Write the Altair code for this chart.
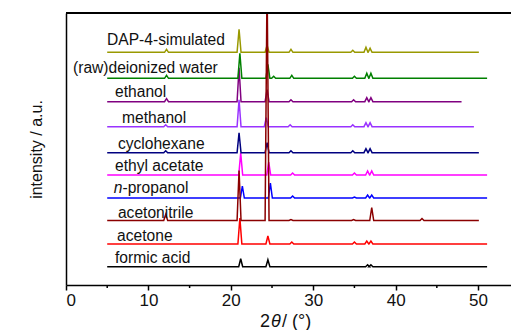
import altair as alt
import pandas as pd

# ---- data ----
series = ["formic acid", "acetone", "acetonitrile", "n-propanol", "ethyl acetate",
          "cyclohexane", "methanol", "ethanol", "(raw)deionized water", "DAP-4-simulated"]
colors = ["#000000", "#ff0000", "#8b0000", "#0000ff", "#ff00ff",
          "#000080", "#9933ff", "#800080", "#008000", "#999900"]
baselines = [18.3, 41.0, 64.5, 87.0, 110.0, 132.3, 158.3, 183.3, 206.7, 232.7]
start_x = [5.0, 5.0, 5.0, 5.0, 5.0, 5.0, 5.0, 5.0, 5.0, 5.0]
end_x = [51.1, 51.1, 50.1, 51.1, 51.1, 50.1, 49.5, 48.0, 51.1, 50.1]
peak_pos = [
    [21.2, 24.5, 36.6, 37.0],
    [21.1, 24.5, 27.4, 35.0, 36.5, 37.0],
    [12.1, 21.0, 24.4, 27.3, 34.9, 37.1, 43.2],
    [21.4, 24.8, 27.5, 35.0, 36.6, 37.1],
    [21.2, 24.6, 27.5, 35.0, 36.6, 37.1],
    [12.1, 21.0, 24.4, 27.3, 34.8, 36.4, 36.9],
    [12.1, 21.0, 24.3, 27.2, 34.8, 36.4, 36.9],
    [12.2, 21.0, 24.4, 27.3, 34.9, 36.5, 37.0],
    [12.2, 21.1, 24.5, 25.2, 27.4, 35.0, 36.5, 37.0],
    [12.2, 21.0, 24.4, 27.3, 34.8, 36.4, 36.9],
]
peak_height = [
    [8, 7, 2, 2],
    [26, 8, 2, 2, 3, 3],
    [6, 50, 240, 1, 1, 13, 2],
    [12, 15, 2, 1, 3, 3],
    [22, 13, 2, 2, 4, 4],
    [2, 20, 10, 2, 2, 4, 4],
    [2, 27, 9, 2, 2, 4, 4],
    [3, 34, 12, 2, 2, 4, 4],
    [3, 25, 14, 2, 3, 2, 5, 5],
    [3, 23, 7, 3, 2, 5, 4],
]
label_x = [5.95, 6.2, 6.3, 5.8, 5.95, 6.3, 6.8, 5.95, 0.85, 4.98]
label_lift = [4, 3, 3, 5, 4, 4, 4, 5, 5, 7]
x_ticks = [0, 10, 20, 30, 40, 50]
minor_ticks = [5, 15, 25, 35, 45]

# ---- build tables ----
HW = 0.24
rows = []
for s, b, x0, x1, pp, ph in zip(series, baselines, start_x, end_x, peak_pos, peak_height):
    pts = [(x0, b)]
    for p, h in zip(pp, ph):
        pts += [(p - HW, b), (p, b + h), (p + HW, b)]
    pts.append((x1, b))
    for i, (x, y) in enumerate(pts):
        rows.append({"x": x, "y": y, "series": s, "i": i})
df = pd.DataFrame(rows)

lab = pd.DataFrame({"series": series, "x": label_x,
                    "y": [b + l for b, l in zip(baselines, label_lift)]})
lab_plain = lab[lab.series != "n-propanol"]
lab_np = lab[lab.series == "n-propanol"]

W, H = 445, 272
FONT = "Liberation Sans"
FS = 15.6
xs = alt.Scale(domain=[0, 54], nice=False, zero=False)
ys = alt.Scale(domain=[0, 272], nice=False)
cscale = alt.Scale(domain=series, range=colors)

xaxis = alt.Axis(values=x_ticks, tickSize=5, tickWidth=1.5, tickColor="black",
                 domainColor="black", domainWidth=1.5, labelFontSize=17,
                 labelFont=FONT, labelColor="#111", labelPadding=2, grid=False,
                 title=None)
yaxis = alt.Axis(ticks=False, labels=False, grid=False, domainColor="black",
                 domainWidth=1.5, title="intensity / a.u.", titleFont=FONT,
                 titleFontSize=16, titleFontWeight="normal", titleColor="#111",
                 titlePadding=22)

base = alt.Chart(df)
others = base.transform_filter(alt.datum.series != "acetonitrile").mark_line(
    strokeWidth=1.5, clip=True).encode(
    x=alt.X("x:Q", scale=xs, axis=xaxis),
    y=alt.Y("y:Q", scale=ys, axis=yaxis),
    color=alt.Color("series:N", scale=cscale, legend=None),
    order="i:Q",
)
acn = base.transform_filter(alt.datum.series == "acetonitrile").mark_line(
    strokeWidth=1.5, clip=True).encode(
    x=alt.X("x:Q", scale=xs),
    y=alt.Y("y:Q", scale=ys),
    color=alt.Color("series:N", scale=cscale, legend=None),
    order="i:Q",
)

txt = alt.Chart(lab_plain).mark_text(align="left", baseline="alphabetic",
                                     font=FONT, fontSize=FS, color="#111").encode(
    x=alt.X("x:Q", scale=xs), y=alt.Y("y:Q", scale=ys), text="series:N")
np_n = alt.Chart(lab_np).mark_text(align="left", baseline="alphabetic", font=FONT,
                                   fontSize=FS, fontStyle="italic", color="#111").encode(
    x=alt.X("x:Q", scale=xs), y=alt.Y("y:Q", scale=ys), text=alt.value("n"))
np_rest = alt.Chart(lab_np).mark_text(align="left", baseline="alphabetic", font=FONT,
                                      fontSize=FS, dx=8.7, color="#111").encode(
    x=alt.X("x:Q", scale=xs), y=alt.Y("y:Q", scale=ys), text=alt.value("-propanol"))

minor = alt.Chart(pd.DataFrame({"v": minor_ticks})).mark_rule(
    color="black", strokeWidth=1.5).encode(
    x=alt.X("v:Q", scale=xs), y=alt.value(H), y2=alt.value(H + 3))

top = alt.Chart(pd.DataFrame({"a": [0]})).mark_rule(
    color="black", strokeWidth=2).encode(
    x=alt.value(0), x2=alt.value(W), y=alt.value(0))

tstyle = dict(baseline="middle", align="left", font=FONT, fontSize=18, color="#111")
t1 = alt.Chart(pd.DataFrame({"a": [0]})).mark_text(**tstyle).encode(
    x=alt.value(194), y=alt.value(H + 37), text=alt.value("2"))
t2 = alt.Chart(pd.DataFrame({"a": [0]})).mark_text(fontStyle="italic", **tstyle).encode(
    x=alt.value(205), y=alt.value(H + 37), text=alt.value("θ"))
t3 = alt.Chart(pd.DataFrame({"a": [0]})).mark_text(**tstyle).encode(
    x=alt.value(216), y=alt.value(H + 37), text=alt.value("/ (°)"))

chart = alt.layer(others, acn, txt, np_n, np_rest, minor, top, t1, t2, t3).properties(
    width=W, height=H,
    autosize=alt.AutoSizeParams(type="none"),
    padding={"left": 58, "top": 5, "right": 0, "bottom": 45},
).configure_view(stroke=None)

chart.save("out.html", embed_options={"renderer": "svg", "actions": False})
